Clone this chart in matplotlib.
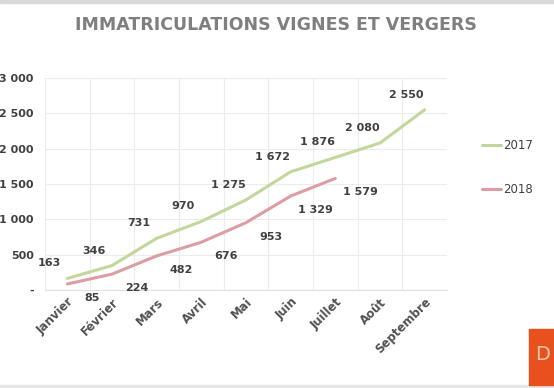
import matplotlib
matplotlib.use("Agg")
import matplotlib.pyplot as plt
from matplotlib.patches import Rectangle

# Données
mois = ["Janvier", "Février", "Mars", "Avril", "Mai", "Juin", "Juillet", "Août", "Septembre"]
val_2017 = [163, 346, 731, 970, 1275, 1672, 1876, 2080, 2550]
val_2018 = [85, 224, 482, 676, 953, 1329, 1579]
yticks = [0, 500, 1000, 1500, 2000, 2500, 3000]
ylabels = ["-", "500", "1 000", "1 500", "2 000", "2 500", "3 000"]

vert = "#c3d69b"
rose = "#dc9ea3"
gris = "#404040"


def fmt(v):
    return f"{v:,}".replace(",", " ")


fig = plt.figure(figsize=(5.54, 3.88), dpi=100)
ax = fig.add_axes([0.0812, 0.2526, 0.7256, 0.5464])

x17 = list(range(len(val_2017)))
x18 = list(range(len(val_2018)))
ax.plot(x17, val_2017, color=vert, lw=2.2, label="2017", solid_capstyle="round")
ax.plot(x18, val_2018, color=rose, lw=2.2, label="2018", solid_capstyle="round")

for x, v in zip(x17, val_2017):
    ax.annotate(fmt(v), (x, v), xytext=(-18, 15), textcoords="offset pixels",
                ha="center", va="center", fontsize=8, fontweight="bold", color=gris)
for x, v in zip(x18, val_2018):
    ax.annotate(fmt(v), (x, v), xytext=(25, -14), textcoords="offset pixels",
                ha="center", va="center", fontsize=8, fontweight="bold", color=gris)

ax.set_xlim(-0.5, len(mois) - 0.5)
ax.set_ylim(0, 3000)
ax.set_yticks(yticks)
ax.set_yticklabels(ylabels)
ax.set_xticks(x17)
ax.set_xticklabels(mois, rotation=45, ha="right", rotation_mode="anchor")
ax.set_xticks([i + 0.5 for i in range(-1, len(mois))], minor=True)

ax.grid(axis="y", color="#ececec", lw=0.8)
ax.grid(axis="x", which="minor", color="#ececec", lw=0.8)
ax.set_axisbelow(True)
for s in ["top", "right", "left"]:
    ax.spines[s].set_visible(False)
ax.spines["bottom"].set_color("#e0e0e0")
ax.tick_params(axis="both", which="both", length=0)
ax.tick_params(axis="y", pad=8, labelsize=8, labelcolor=gris)
ax.tick_params(axis="x", pad=4, labelsize=8.5, labelcolor="#505050")
for t in ax.get_xticklabels() + ax.get_yticklabels():
    t.set_fontweight("bold")

leg = ax.legend(loc="upper left", bbox_to_anchor=(1.06, 0.76), frameon=False,
                handlelength=1.6, handletextpad=0.2, labelspacing=2.6,
                fontsize=8.5, labelcolor=gris)

fig.text(0.498, 0.935, "IMMATRICULATIONS VIGNES ET VERGERS", ha="center", va="center",
         fontsize=12.5, fontweight="bold", color="#7f7f7f")

# bandeaux et pastille
fig.patches.append(Rectangle((0, 0.992), 1, 0.008, transform=fig.transFigure,
                             color="#d9d9d9", zorder=0))
fig.patches.append(Rectangle((0, 0), 1, 0.008, transform=fig.transFigure,
                             color="#e6e6e6", zorder=0))
fig.patches.append(Rectangle((529 / 554, 3 / 388), 25 / 554, 56 / 388,
                             transform=fig.transFigure, color="#e8501e", zorder=1))
fig.text(535 / 554, 33 / 388, "D", ha="left", va="center", fontsize=14,
         color="#f6c9a8", zorder=2)

fig.savefig("out.png", dpi=100)
